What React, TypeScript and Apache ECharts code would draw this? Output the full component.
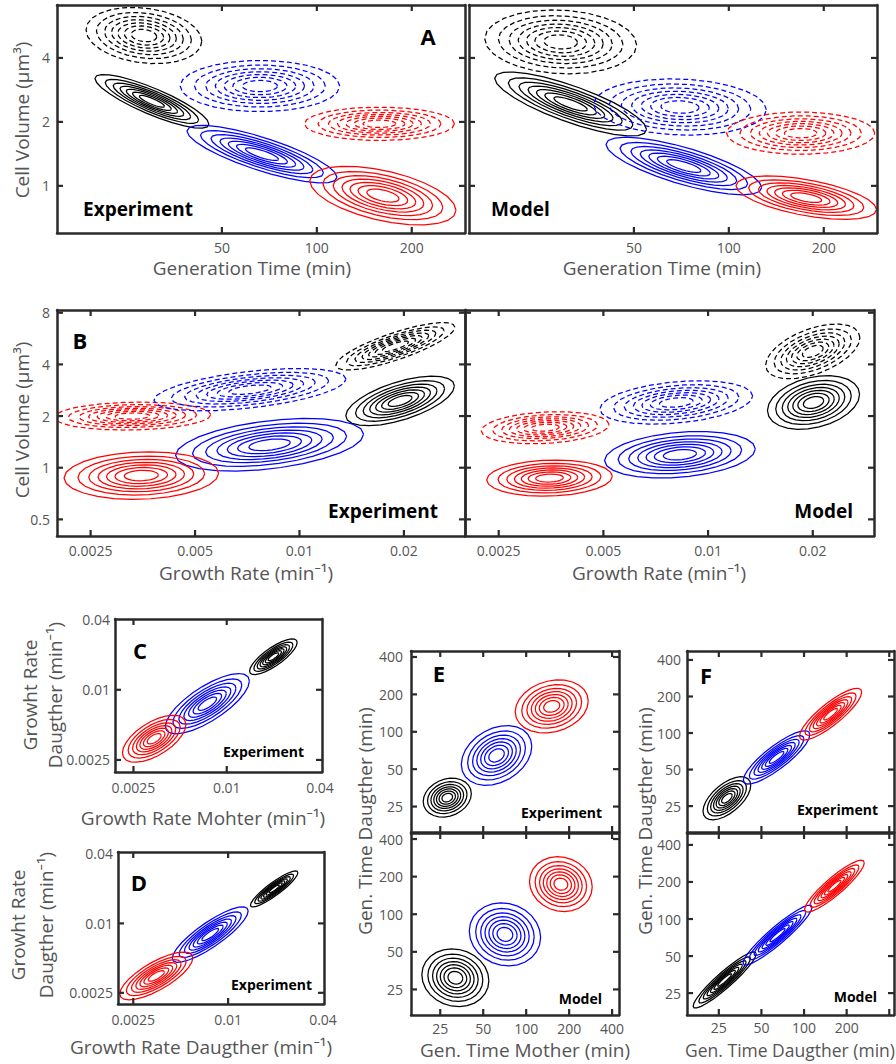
import React, { useEffect, useRef } from "react";
import * as echarts from "echarts";

// ---------- tick values ----------
const GEN_TICKS_A = [50, 100, 200];
const VOL_TICKS_A = [1, 2, 4];
const RATE_TICKS_B = [0.0025, 0.005, 0.01, 0.02];
const VOL_TICKS_B = [0.5, 1, 2, 4, 8];
const RATE_TICKS_CD = [0.0025, 0.01, 0.04];
const GEN_TICKS_EF = [25, 50, 100, 200, 400];
const GEN_LABELS_F_X = [25, 50, 100, 200];

// ---------- axis ranges ----------
const GEN_RANGE_A = [15, 295];
const VOL_RANGE_A = [0.6, 7.1];
const RATE_RANGE_B = [0.002, 0.03];
const VOL_RANGE_B = [0.4, 8.3];
const RATE_RANGE_C_X = [0.0019, 0.0412];
const RATE_RANGE_C_Y = [0.00197, 0.0405];
const RATE_RANGE_D_X = [0.002, 0.0406];
const RATE_RANGE_D_Y = [0.002, 0.0416];
const GEN_RANGE_E = [15.6, 447];
const GEN_RANGE_F_X = [14.9, 432];
const GEN_RANGE_F_TOP_Y = [15.3, 474];
const GEN_RANGE_F_BOT_Y = [16.6, 500];

// ---------- contour clusters ----------
// [centre x, centre y, spread x (log2), spread y (log2), correlation, colour, dashed]
const A_EXPERIMENT = [
  [28.3, 5.1, 0.61, 0.44, -0.2, "k", 1],
  [30, 2.5, 0.6, 0.42, -0.85, "k", 0],
  [66, 2.95, 0.84, 0.4, 0, "b", 1],
  [67, 1.41, 0.79, 0.45, -0.8, "b", 0],
  [158, 1.96, 0.79, 0.26, 0, "r", 1],
  [162, 0.9, 0.77, 0.46, -0.5, "r", 0],
];
const A_MODEL = [
  [29.3, 4.76, 0.8, 0.5, -0.1, "k", 1],
  [31.5, 2.43, 0.8, 0.5, -0.8, "k", 0],
  [70, 2.35, 0.91, 0.44, -0.1, "b", 1],
  [169, 1.77, 0.78, 0.33, 0, "r", 1],
  [72, 1.24, 0.82, 0.45, -0.75, "b", 0],
  [176, 0.88, 0.74, 0.34, -0.55, "r", 0],
];
const B_EXPERIMENT = [
  [0.0033, 2.0, 0.75, 0.27, 0.1, "r", 1],
  [0.0072, 2.85, 0.92, 0.41, 0.5, "b", 1],
  [0.0189, 5.1, 0.57, 0.46, 0.8, "k", 1],
  [0.0195, 2.45, 0.52, 0.48, 0.6, "k", 0],
  [0.0082, 1.36, 0.9, 0.51, 0.4, "b", 0],
  [0.0035, 0.9, 0.74, 0.46, 0.1, "r", 0],
];
const B_MODEL = [
  [0.0034, 1.71, 0.61, 0.31, 0.2, "r", 1],
  [0.0081, 2.4, 0.73, 0.42, 0.3, "b", 1],
  [0.02, 4.76, 0.45, 0.53, 0.5, "k", 1],
  [0.0201, 2.4, 0.44, 0.52, 0.3, "k", 0],
  [0.0083, 1.19, 0.72, 0.45, 0.25, "b", 0],
  [0.0035, 0.87, 0.6, 0.35, 0.1, "r", 0],
];
const C_EXPERIMENT = [
  [0.02, 0.0192, 0.51, 0.51, 0.8, "k", 0],
  [0.0075, 0.0076, 0.9, 0.86, 0.75, "b", 0],
  [0.0034, 0.0038, 0.68, 0.67, 0.6, "r", 0],
];
const D_EXPERIMENT = [
  [0.0196, 0.0199, 0.5, 0.52, 0.9, "k", 0],
  [0.0077, 0.008, 0.8, 0.8, 0.85, "b", 0],
  [0.0035, 0.0035, 0.77, 0.69, 0.75, "r", 0],
];
const E_EXPERIMENT = [
  [28, 29.5, 0.56, 0.52, 0.2, "k", 0],
  [62, 64.5, 0.82, 0.8, 0.3, "b", 0],
  [151, 160, 0.85, 0.71, 0.2, "r", 0],
];
const E_MODEL = [
  [31.9, 31, 0.78, 0.77, -0.1, "k", 0],
  [71, 69, 0.83, 0.84, -0.1, "b", 0],
  [175, 174, 0.73, 0.73, -0.1, "r", 0],
];
const F_EXPERIMENT = [
  [28.5, 29, 0.56, 0.59, 0.6, "k", 0],
  [64, 63, 0.78, 0.73, 0.85, "b", 0],
  [154, 143, 0.73, 0.71, 0.85, "r", 0],
];
const F_MODEL = [
  [27.5, 32, 0.74, 0.76, 0.93, "k", 0],
  [65, 74, 0.81, 0.81, 0.93, "b", 0],
  [164, 185, 0.7, 0.7, 0.9, "r", 0],
];

// relative size of each contour level
const LEVELS = [1, 0.82, 0.68, 0.56, 0.45, 0.34, 0.22];

const COLORS: Record<string, string> = { k: "#000000", b: "#0000ff", r: "#ff0000" };
const FONT = '"Open Sans", "Noto Sans", "DejaVu Sans", sans-serif';
const TEXT_GRAY = "#555555";
const BOX = "#2a2a2a";
const TICK_LEN = 6;

type Panel = {
  left: number; top: number; width: number; height: number;
  xr: number[]; yr: number[];
  xt: number[]; xl: number[] | null;
  yt: number[]; yl: number[] | null;
  clusters: any[]; xm: number; ym: number;
};

const PANELS: Panel[] = [
  { left: 57, top: 5, width: 408, height: 228, xr: GEN_RANGE_A, yr: VOL_RANGE_A, xt: GEN_TICKS_A, xl: GEN_TICKS_A, yt: VOL_TICKS_A, yl: VOL_TICKS_A, clusters: A_EXPERIMENT, xm: 7, ym: 7 },
  { left: 469, top: 5, width: 408, height: 228, xr: GEN_RANGE_A, yr: VOL_RANGE_A, xt: GEN_TICKS_A, xl: GEN_TICKS_A, yt: VOL_TICKS_A, yl: null, clusters: A_MODEL, xm: 7, ym: 7 },
  { left: 57, top: 310, width: 408, height: 226, xr: RATE_RANGE_B, yr: VOL_RANGE_B, xt: RATE_TICKS_B, xl: RATE_TICKS_B, yt: VOL_TICKS_B, yl: VOL_TICKS_B, clusters: B_EXPERIMENT, xm: 7, ym: 7 },
  { left: 465, top: 310, width: 409, height: 226, xr: RATE_RANGE_B, yr: VOL_RANGE_B, xt: RATE_TICKS_B, xl: RATE_TICKS_B, yt: VOL_TICKS_B, yl: null, clusters: B_MODEL, xm: 7, ym: 7 },
  { left: 115, top: 619, width: 207, height: 153, xr: RATE_RANGE_C_X, yr: RATE_RANGE_C_Y, xt: RATE_TICKS_CD, xl: RATE_TICKS_CD, yt: RATE_TICKS_CD, yl: RATE_TICKS_CD, clusters: C_EXPERIMENT, xm: 8, ym: 5 },
  { left: 118, top: 852, width: 206, height: 152, xr: RATE_RANGE_D_X, yr: RATE_RANGE_D_Y, xt: RATE_TICKS_CD, xl: RATE_TICKS_CD, yt: RATE_TICKS_CD, yl: RATE_TICKS_CD, clusters: D_EXPERIMENT, xm: 8, ym: 5 },
  { left: 411, top: 651, width: 208, height: 181, xr: GEN_RANGE_E, yr: GEN_RANGE_E, xt: GEN_TICKS_EF, xl: null, yt: GEN_TICKS_EF, yl: GEN_TICKS_EF, clusters: E_EXPERIMENT, xm: 6, ym: 8 },
  { left: 411, top: 833, width: 208, height: 182, xr: GEN_RANGE_E, yr: GEN_RANGE_E, xt: GEN_TICKS_EF, xl: GEN_TICKS_EF, yt: GEN_TICKS_EF, yl: GEN_TICKS_EF, clusters: E_MODEL, xm: 6, ym: 8 },
  { left: 687, top: 651, width: 207, height: 181, xr: GEN_RANGE_F_X, yr: GEN_RANGE_F_TOP_Y, xt: GEN_TICKS_EF, xl: null, yt: GEN_TICKS_EF, yl: GEN_TICKS_EF, clusters: F_EXPERIMENT, xm: 5, ym: 6 },
  { left: 687, top: 833, width: 207, height: 182, xr: GEN_RANGE_F_X, yr: GEN_RANGE_F_BOT_Y, xt: GEN_TICKS_EF, xl: GEN_LABELS_F_X, yt: GEN_TICKS_EF, yl: GEN_TICKS_EF, clusters: F_MODEL, xm: 5, ym: 6 },
];

const log2 = (v: number) => Math.log(v) / Math.LN2;

function labelFor(ticks: number[]) {
  return (v: number) => {
    let best = ticks[0];
    let d = Infinity;
    ticks.forEach((t) => {
      const dd = Math.abs(log2(t) - v);
      if (dd < d) { d = dd; best = t; }
    });
    return String(best);
  };
}

function makeAxis(p: Panel, gi: number, dim: "x" | "y", side: string, withLabels: boolean) {
  const range = dim === "x" ? p.xr : p.yr;
  const labels = dim === "x" ? p.xl : p.yl;
  const ticks = dim === "x" ? p.xt : p.yt;
  const show = withLabels && !!labels;
  return {
    gridIndex: gi,
    type: "value",
    position: side,
    min: log2(range[0]),
    max: log2(range[1]),
    z: 5,
    axisLine: { show: true, onZero: false, lineStyle: { color: BOX, width: 2.5 } },
    splitLine: { show: false },
    axisTick: { show: false },
    axisLabel: {
      show,
      customValues: show ? (labels as number[]).map(log2) : [],
      formatter: labelFor(ticks),
      margin: dim === "x" ? p.xm : p.ym,
      color: TEXT_GRAY,
      fontSize: 14,
      fontFamily: FONT,
      hideOverlap: false,
    },
  };
}

function makeContourItem(clusters: any[]) {
  return (params: any, api: any) => {
    const c = clusters[params.dataIndex];
    const cx = api.value(0);
    const cy = api.value(1);
    const rx = c[2], ry = c[3], rho = c[4];
    const s = Math.sqrt(1 - rho * rho);
    const N = 26;
    const children = LEVELS.map((f) => {
      const pts: number[][] = [];
      for (let k = 0; k <= N; k++) {
        const t = (2 * Math.PI * k) / N;
        const lx = cx + f * rx * Math.cos(t);
        const ly = cy + f * ry * (rho * Math.cos(t) + s * Math.sin(t));
        pts.push(api.coord([lx, ly]));
      }
      return {
        type: "polyline",
        shape: { points: pts },
        style: {
          stroke: COLORS[c[5]],
          fill: null,
          lineWidth: 1.25,
          lineDash: c[6] ? [5, 3] : null,
        },
      };
    });
    const cs = params.coordSys;
    return {
      type: "group",
      children,
      clipPath: { type: "rect", shape: { x: cs.x, y: cs.y, width: cs.width, height: cs.height } },
    };
  };
}

// tick marks on all four sides, placed through the axes' scales
function makeTickItem(p: Panel) {
  return (params: any, api: any) => {
    const cs = params.coordSys;
    const y0 = log2(p.yr[0]);
    const x0 = log2(p.xr[0]);
    const children: any[] = [];
    const st = { stroke: BOX, lineWidth: 2.2 };
    p.xt.forEach((t) => {
      const px = api.coord([log2(t), y0])[0];
      if (px < cs.x + 2 || px > cs.x + cs.width - 2) return;
      children.push({ type: "line", shape: { x1: px, y1: cs.y + cs.height, x2: px, y2: cs.y + cs.height - TICK_LEN }, style: st });
      children.push({ type: "line", shape: { x1: px, y1: cs.y, x2: px, y2: cs.y + TICK_LEN }, style: st });
    });
    p.yt.forEach((t) => {
      const py = api.coord([x0, log2(t)])[1];
      if (py < cs.y + 2 || py > cs.y + cs.height - 2) return;
      children.push({ type: "line", shape: { x1: cs.x, y1: py, x2: cs.x + TICK_LEN, y2: py }, style: st });
      children.push({ type: "line", shape: { x1: cs.x + cs.width, y1: py, x2: cs.x + cs.width - TICK_LEN, y2: py }, style: st });
    });
    return { type: "group", children };
  };
}

function text(str: string, x: number, y: number, font: string, opts: any = {}) {
  return {
    type: "text",
    x,
    y,
    rotation: opts.rotate ? Math.PI / 2 : 0,
    z: 100,
    style: {
      text: str,
      font,
      fill: opts.fill || TEXT_GRAY,
      textAlign: opts.align || "center",
      textVerticalAlign: "middle",
    },
  };
}

export default function App() {
  const ref = useRef<HTMLDivElement>(null);
  useEffect(() => {
    if (!ref.current) return;
    const chart = echarts.init(ref.current, null, { renderer: "svg" });

    const grid: any[] = [];
    const xAxis: any[] = [];
    const yAxis: any[] = [];
    const series: any[] = [];
    PANELS.forEach((p, i) => {
      grid.push({
        left: p.left, top: p.top, width: p.width, height: p.height,
        show: false,
        containLabel: false,
      });
      xAxis.push(makeAxis(p, i, "x", "bottom", true));
      xAxis.push(makeAxis(p, i, "x", "top", false));
      yAxis.push(makeAxis(p, i, "y", "left", true));
      yAxis.push(makeAxis(p, i, "y", "right", false));
      series.push({
        type: "custom",
        coordinateSystem: "cartesian2d",
        xAxisIndex: 2 * i,
        yAxisIndex: 2 * i,
        clip: true,
        silent: true,
        z: 2,
        encode: { x: 0, y: 1 },
        data: p.clusters.map((c: any[]) => [log2(c[0]), log2(c[1])]),
        renderItem: makeContourItem(p.clusters),
      });
      series.push({
        type: "custom",
        coordinateSystem: "cartesian2d",
        xAxisIndex: 2 * i,
        yAxisIndex: 2 * i,
        clip: false,
        silent: true,
        z: 6,
        encode: { x: 0, y: 1 },
        data: [[log2(p.xr[0]), log2(p.yr[0])]],
        renderItem: makeTickItem(p),
      });
    });

    const T = `19px ${FONT}`;
    const TF = `17.5px ${FONT}`;
    const BIG = `bold 22px ${FONT}`;
    const EXP = `bold 19px ${FONT}`;
    const SMALL = `bold 14px ${FONT}`;
    const graphic = [
      // axis titles
      text("Cell Volume (μm³)", 22, 120, T, { rotate: true }),
      text("Generation Time (min)", 252, 268, T),
      text("Generation Time (min)", 662, 268, T),
      text("Cell Volume (μm³)", 22, 420, T, { rotate: true }),
      text("Growth Rate (min⁻¹)", 246, 573, T),
      text("Growth Rate (min⁻¹)", 659, 573, T),
      text("Growht Rate", 30, 695, T, { rotate: true }),
      text("Daugther (min⁻¹)", 55, 695, T, { rotate: true }),
      text("Growth Rate Mohter (min⁻¹)", 203, 818, T),
      text("Growht Rate", 18, 925, T, { rotate: true }),
      text("Daugther (min⁻¹)", 46, 925, T, { rotate: true }),
      text("Growth Rate Daugther (min⁻¹)", 201, 1047, T),
      text("Gen. Time Daugther (min)", 365, 821, T, { rotate: true }),
      text("Gen. Time Mother (min)", 525, 1050, T),
      text("Gen. Time Daugther (min)", 645, 821, T, { rotate: true }),
      text("Gen. Time Daugther (min)", 790, 1050, TF),
      // panel letters
      text("A", 428, 36, BIG, { fill: "#000" }),
      text("B", 80, 340, BIG, { fill: "#000" }),
      text("C", 140, 650, BIG, { fill: "#000" }),
      text("D", 139, 882, BIG, { fill: "#000" }),
      text("E", 439, 673, BIG, { fill: "#000" }),
      text("F", 706, 675, BIG, { fill: "#000" }),
      // data source labels
      text("Experiment", 83, 209, EXP, { fill: "#000", align: "left" }),
      text("Model", 491, 209, EXP, { fill: "#000", align: "left" }),
      text("Experiment", 438, 511, EXP, { fill: "#000", align: "right" }),
      text("Model", 853, 511, EXP, { fill: "#000", align: "right" }),
      text("Experiment", 304, 751, SMALL, { fill: "#000", align: "right" }),
      text("Experiment", 312, 984, SMALL, { fill: "#000", align: "right" }),
      text("Experiment", 602, 812, SMALL, { fill: "#000", align: "right" }),
      text("Model", 602, 998, SMALL, { fill: "#000", align: "right" }),
      text("Experiment", 878, 809, SMALL, { fill: "#000", align: "right" }),
      text("Model", 877, 996, SMALL, { fill: "#000", align: "right" }),
    ];

    chart.setOption({
      animation: false,
      backgroundColor: "#ffffff",
      grid,
      xAxis,
      yAxis,
      series,
      graphic,
    });
    return () => chart.dispose();
  }, []);
  return (
    <div
      ref={ref}
      style={{ position: "absolute", left: 0, top: 0, width: 896, height: 1064 }}
    />
  );
}
